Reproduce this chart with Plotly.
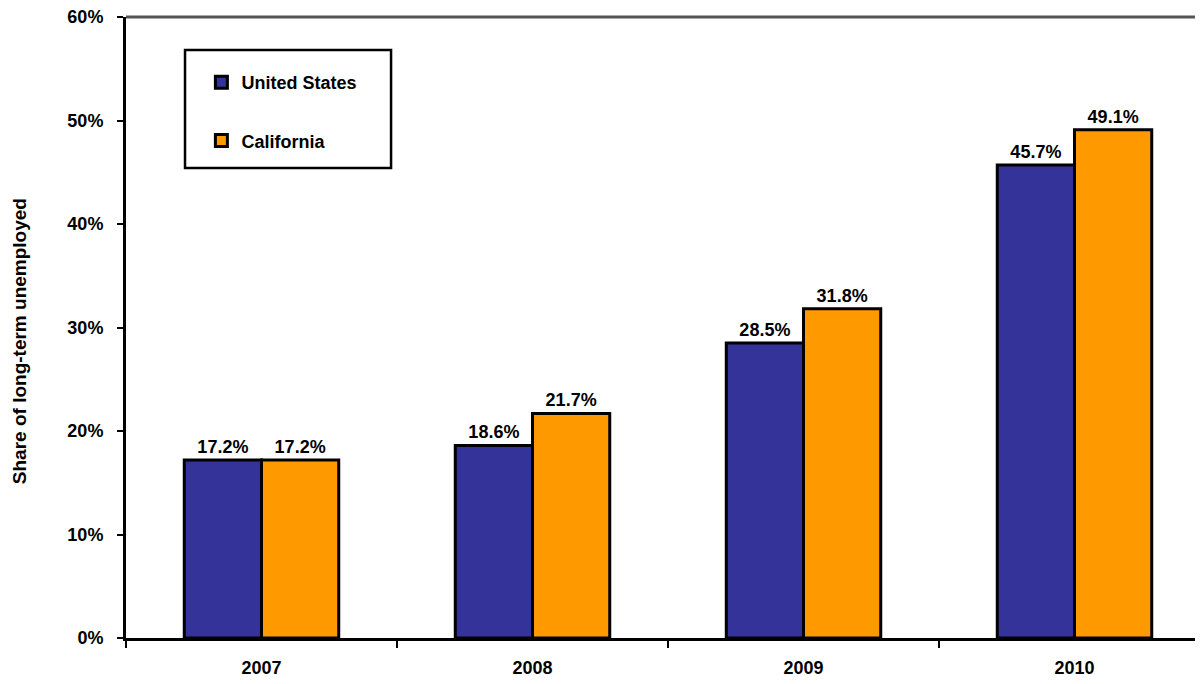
import plotly.graph_objects as go

years = ["2007", "2008", "2009", "2010"]
us_values = [17.2, 18.6, 28.5, 45.7]
ca_values = [17.2, 21.7, 31.8, 49.1]
series_names = ["United States", "California"]
y_tick_vals = [0, 10, 20, 30, 40, 50, 60]
y_tick_text = ["0%", "10%", "20%", "30%", "40%", "50%", "60%"]
y_title = "Share of long-term unemployed"

FONT = "Liberation Sans, Arial, sans-serif"
US_COLOR = "#333399"
CA_COLOR = "#FF9900"

fig = go.Figure()
for name, vals, col, grp in [(series_names[0], us_values, US_COLOR, "a"),
                             (series_names[1], ca_values, CA_COLOR, "b")]:
    fig.add_trace(go.Bar(
        x=years, y=vals, name=name, legendgroup=grp,
        marker=dict(color=col, line=dict(color="black", width=3)),
        texttemplate="%{y:.1f}%", textposition="outside",
        textfont=dict(family=FONT, size=18, color="black", weight="bold"),
        cliponaxis=False,
    ))

tick_font = dict(family=FONT, size=18, color="black", weight="bold")

fig.update_layout(
    width=1203, height=684,
    margin=dict(l=118, r=8, t=9, b=54, autoexpand=False),
    paper_bgcolor="white", plot_bgcolor="white",
    barmode="group", bargap=0.43, bargroupgap=0,
    font=dict(family=FONT, size=18, color="black", weight="bold"),
    showlegend=True,
    legend=dict(
        x=0.070, y=0.9243, xanchor="left", yanchor="top",
        borderwidth=0, bgcolor="rgba(0,0,0,0)",
        font=dict(family=FONT, size=18, color="black", weight="bold"),
        tracegroupgap=32, traceorder="grouped",
        itemwidth=30,
    ),
    xaxis=dict(
        range=[-0.5, -0.5 + 1077 / 271], showline=True, linecolor="black", linewidth=3,
        ticks="outside", tickson="boundaries", ticklen=7, tickwidth=2, tickcolor="black",
        ticklabelstandoff=11, automargin=False,
        showgrid=False, zeroline=False,
        tickfont=tick_font,
    ),
    yaxis=dict(
        range=[0, 60], tickmode="array", tickvals=y_tick_vals, ticktext=y_tick_text,
        showline=True, linecolor="black", linewidth=3,
        ticks="outside", ticklen=6, tickwidth=2, tickcolor="black",
        ticklabelstandoff=10, ticklabeloverflow="allow", automargin=False,
        showgrid=False, zeroline=False,
        tickfont=tick_font,
    ),
    annotations=[dict(text=y_title, textangle=-90, xref="paper", yref="paper",
                      x=0, y=0.478, xanchor="center", yanchor="middle", xshift=-107,
                      showarrow=False,
                      font=dict(family=FONT, size=19, color="black", weight="bold"))],
    shapes=[
        dict(type="line", xref="paper", yref="paper", x0=0, x1=1, y0=1, y1=1,
             line=dict(color="#555555", width=3)),
        dict(type="rect", xref="paper", yref="paper", x0=0.0548, x1=0.2461,
             y0=0.7568, y1=0.9469, line=dict(color="black", width=2.5),
             fillcolor="rgba(0,0,0,0)", layer="above"),
    ],
)

fig.write_html("out.html")
